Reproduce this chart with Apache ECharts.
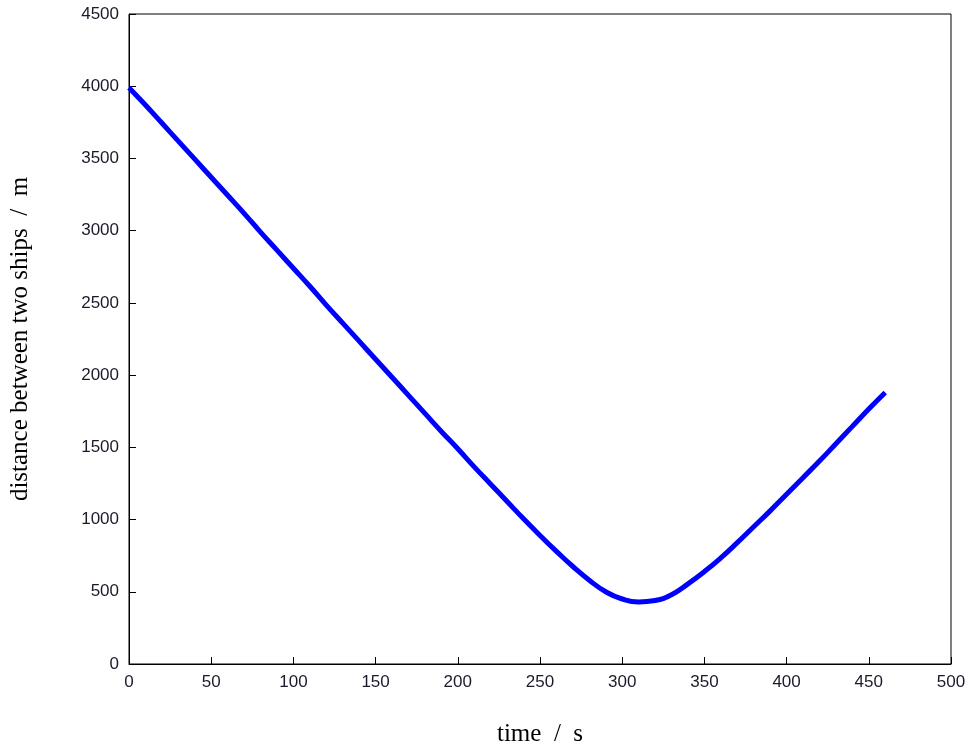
<!DOCTYPE html>
<html><head><meta charset="utf-8">
<script src="https://cdn.jsdelivr.net/npm/echarts@6/dist/echarts.min.js"></script>
<style>html,body{margin:0;background:#fff}#main{width:979px;height:752px}</style>
</head><body><div id="main"></div>
<script>
var times = [0,10,20,30,40,50,60,70,80,90,100,110,120,130,140,150,160,170,180,190,200,210,220,230,240,250,260,270,280,290,300,310,320,330,340,350,360,370,380,390,400,410,420,430,440,450,460];
var distances = [3990,3870,3745,3620,3495,3370,3245,3120,2990,2865,2740,2615,2485,2360,2235,2110,1985,1860,1735,1610,1490,1365,1245,1125,1005,890,780,675,580,500,450,430,440,480,555,640,735,840,950,1060,1175,1290,1405,1525,1645,1765,1880];

var data = [];
for (var i = 0; i < times.length; i++) data.push([times[i], distances[i]]);

var myChart = echarts.init(document.getElementById('main'));
var axisFont = {color: '#1a1a2a', fontFamily: 'Liberation Sans', fontSize: 17, margin: 10,
    formatter: function (v) { return String(v); }};
var option = {
    animation: false,
    grid: {left: 124, right: 28, top: 14, bottom: 85, show: true, borderColor: '#000', borderWidth: 1},
    xAxis: {
        type: 'value', min: 0, max: 500, interval: 50,
        name: 'time  /  s', nameLocation: 'middle', nameGap: 58,
        nameTextStyle: {fontFamily: 'Liberation Serif', fontSize: 25, color: '#000'},
        axisLine: {lineStyle: {color: '#000'}},
        axisTick: {inside: true, length: 7, lineStyle: {color: '#000'}},
        axisLabel: axisFont, splitLine: {show: false}
    },
    yAxis: {
        type: 'value', min: 0, max: 4500, interval: 500,
        name: 'distance between two ships  /  m', nameLocation: 'middle', nameGap: 96,
        nameTextStyle: {fontFamily: 'Liberation Serif', fontSize: 25, color: '#000'},
        axisLine: {lineStyle: {color: '#000'}},
        axisTick: {inside: true, length: 7, lineStyle: {color: '#000'}},
        axisLabel: axisFont, splitLine: {show: false}
    },
    series: [{
        type: 'line', data: data, showSymbol: false, smooth: true,
        lineStyle: {color: '#0000ff', width: 5}
    }]
};
myChart.setOption(option);
</script></body></html>
